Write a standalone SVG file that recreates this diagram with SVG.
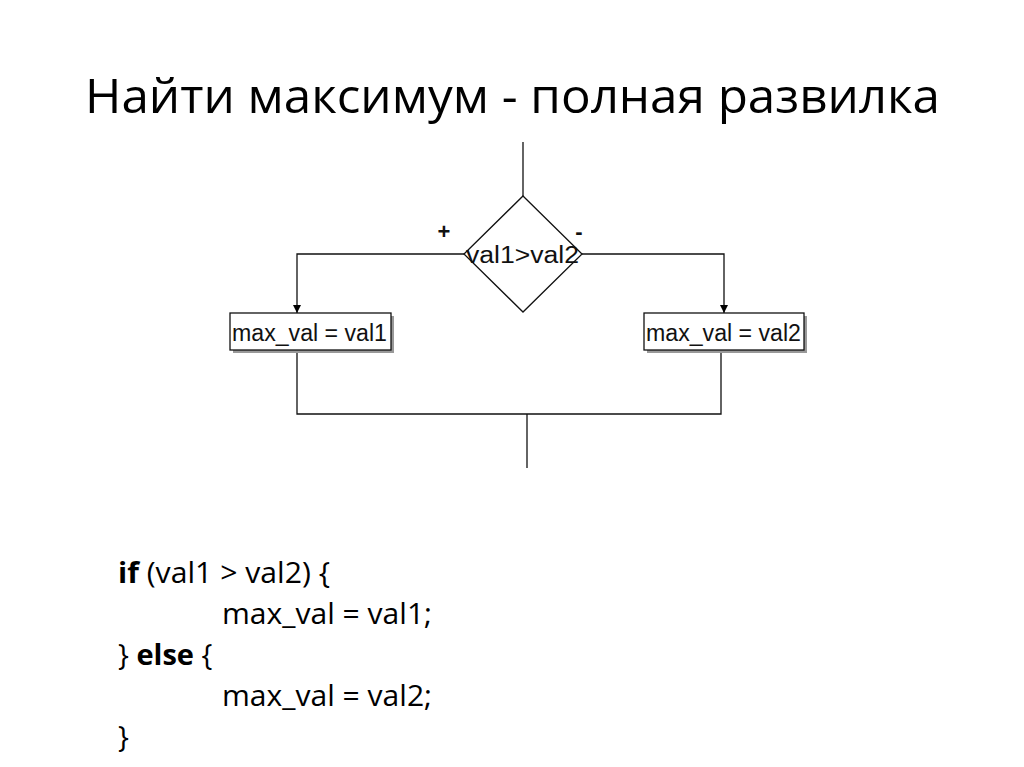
<svg xmlns="http://www.w3.org/2000/svg" width="1024" height="767" viewBox="0 0 1024 767">
  <defs>
    <marker id="arrow" viewBox="0 0 10 10" refX="10" refY="5" markerWidth="8" markerHeight="8" markerUnits="userSpaceOnUse" orient="auto">
      <path d="M0,0 L10,5 L0,10 Z" fill="#000"/>
    </marker>
  </defs>
  <style>
    .line { fill: none; stroke: #111; stroke-width: 1.3; }
    .box { fill: #fff; stroke: #111; stroke-width: 1.3; }
    .shadow { fill: #999; }
    .lbl { font-family: "Liberation Sans", Arial, sans-serif; font-size: 23px; fill: #111; }
    .sign { font-family: "Liberation Sans", Arial, sans-serif; font-size: 22px; font-weight: bold; fill: #111; }
    .title { font-family: "Open Sans", "Liberation Sans", sans-serif; font-size: 48px; fill: #000; }
    .code { font-family: "Open Sans", "Liberation Sans", sans-serif; font-size: 29px; fill: #000; }
  </style>
  <rect width="1024" height="767" fill="#fff"/>
  <text class="title" x="85" y="113" textLength="855" lengthAdjust="spacingAndGlyphs">Найти максимум - полная развилка</text>

  <g id="connectors">
    <line class="line" x1="523" y1="142" x2="523" y2="196"/>
    <polyline class="line" points="464,254 297,254 297,313" marker-end="url(#arrow)"/>
    <polyline class="line" points="582,254 724,254 724,313" marker-end="url(#arrow)"/>
    <polyline class="line" points="297,350 297,414 721,414 721,350"/>
    <line class="line" x1="527" y1="414" x2="527" y2="468"/>
  </g>

  <g id="decision">
    <polygon class="box" points="523,196 582,254 523,312 464,254"/>
    <text class="lbl" x="466" y="263" font-size="22" textLength="113" lengthAdjust="spacingAndGlyphs">val1&gt;val2</text>
    <text class="sign" x="444" y="239" text-anchor="middle">+</text>
    <text class="sign" x="579" y="239" text-anchor="middle">-</text>
  </g>

  <g id="assign1">
    <rect class="shadow" x="233" y="316" width="161" height="37"/>
    <rect class="box" x="230" y="313" width="161" height="37"/>
    <text class="lbl" x="232" y="341" textLength="155" lengthAdjust="spacingAndGlyphs">max_val = val1</text>
  </g>

  <g id="assign2">
    <rect class="shadow" x="647" y="316" width="160" height="37"/>
    <rect class="box" x="644" y="313" width="160" height="37"/>
    <text class="lbl" x="646" y="341" textLength="155" lengthAdjust="spacingAndGlyphs">max_val = val2</text>
  </g>

  <g id="code">
    <text class="code" x="118" y="583" textLength="212" lengthAdjust="spacingAndGlyphs"><tspan font-weight="bold">if</tspan> (val1 &gt; val2) {</text>
    <text class="code" x="222" y="624" textLength="210" lengthAdjust="spacingAndGlyphs">max_val = val1;</text>
    <text class="code" x="118" y="665">} <tspan font-weight="bold">else</tspan>  {</text>
    <text class="code" x="222" y="706" textLength="210" lengthAdjust="spacingAndGlyphs">max_val = val2;</text>
    <text class="code" x="118" y="747">}</text>
  </g>
</svg>
